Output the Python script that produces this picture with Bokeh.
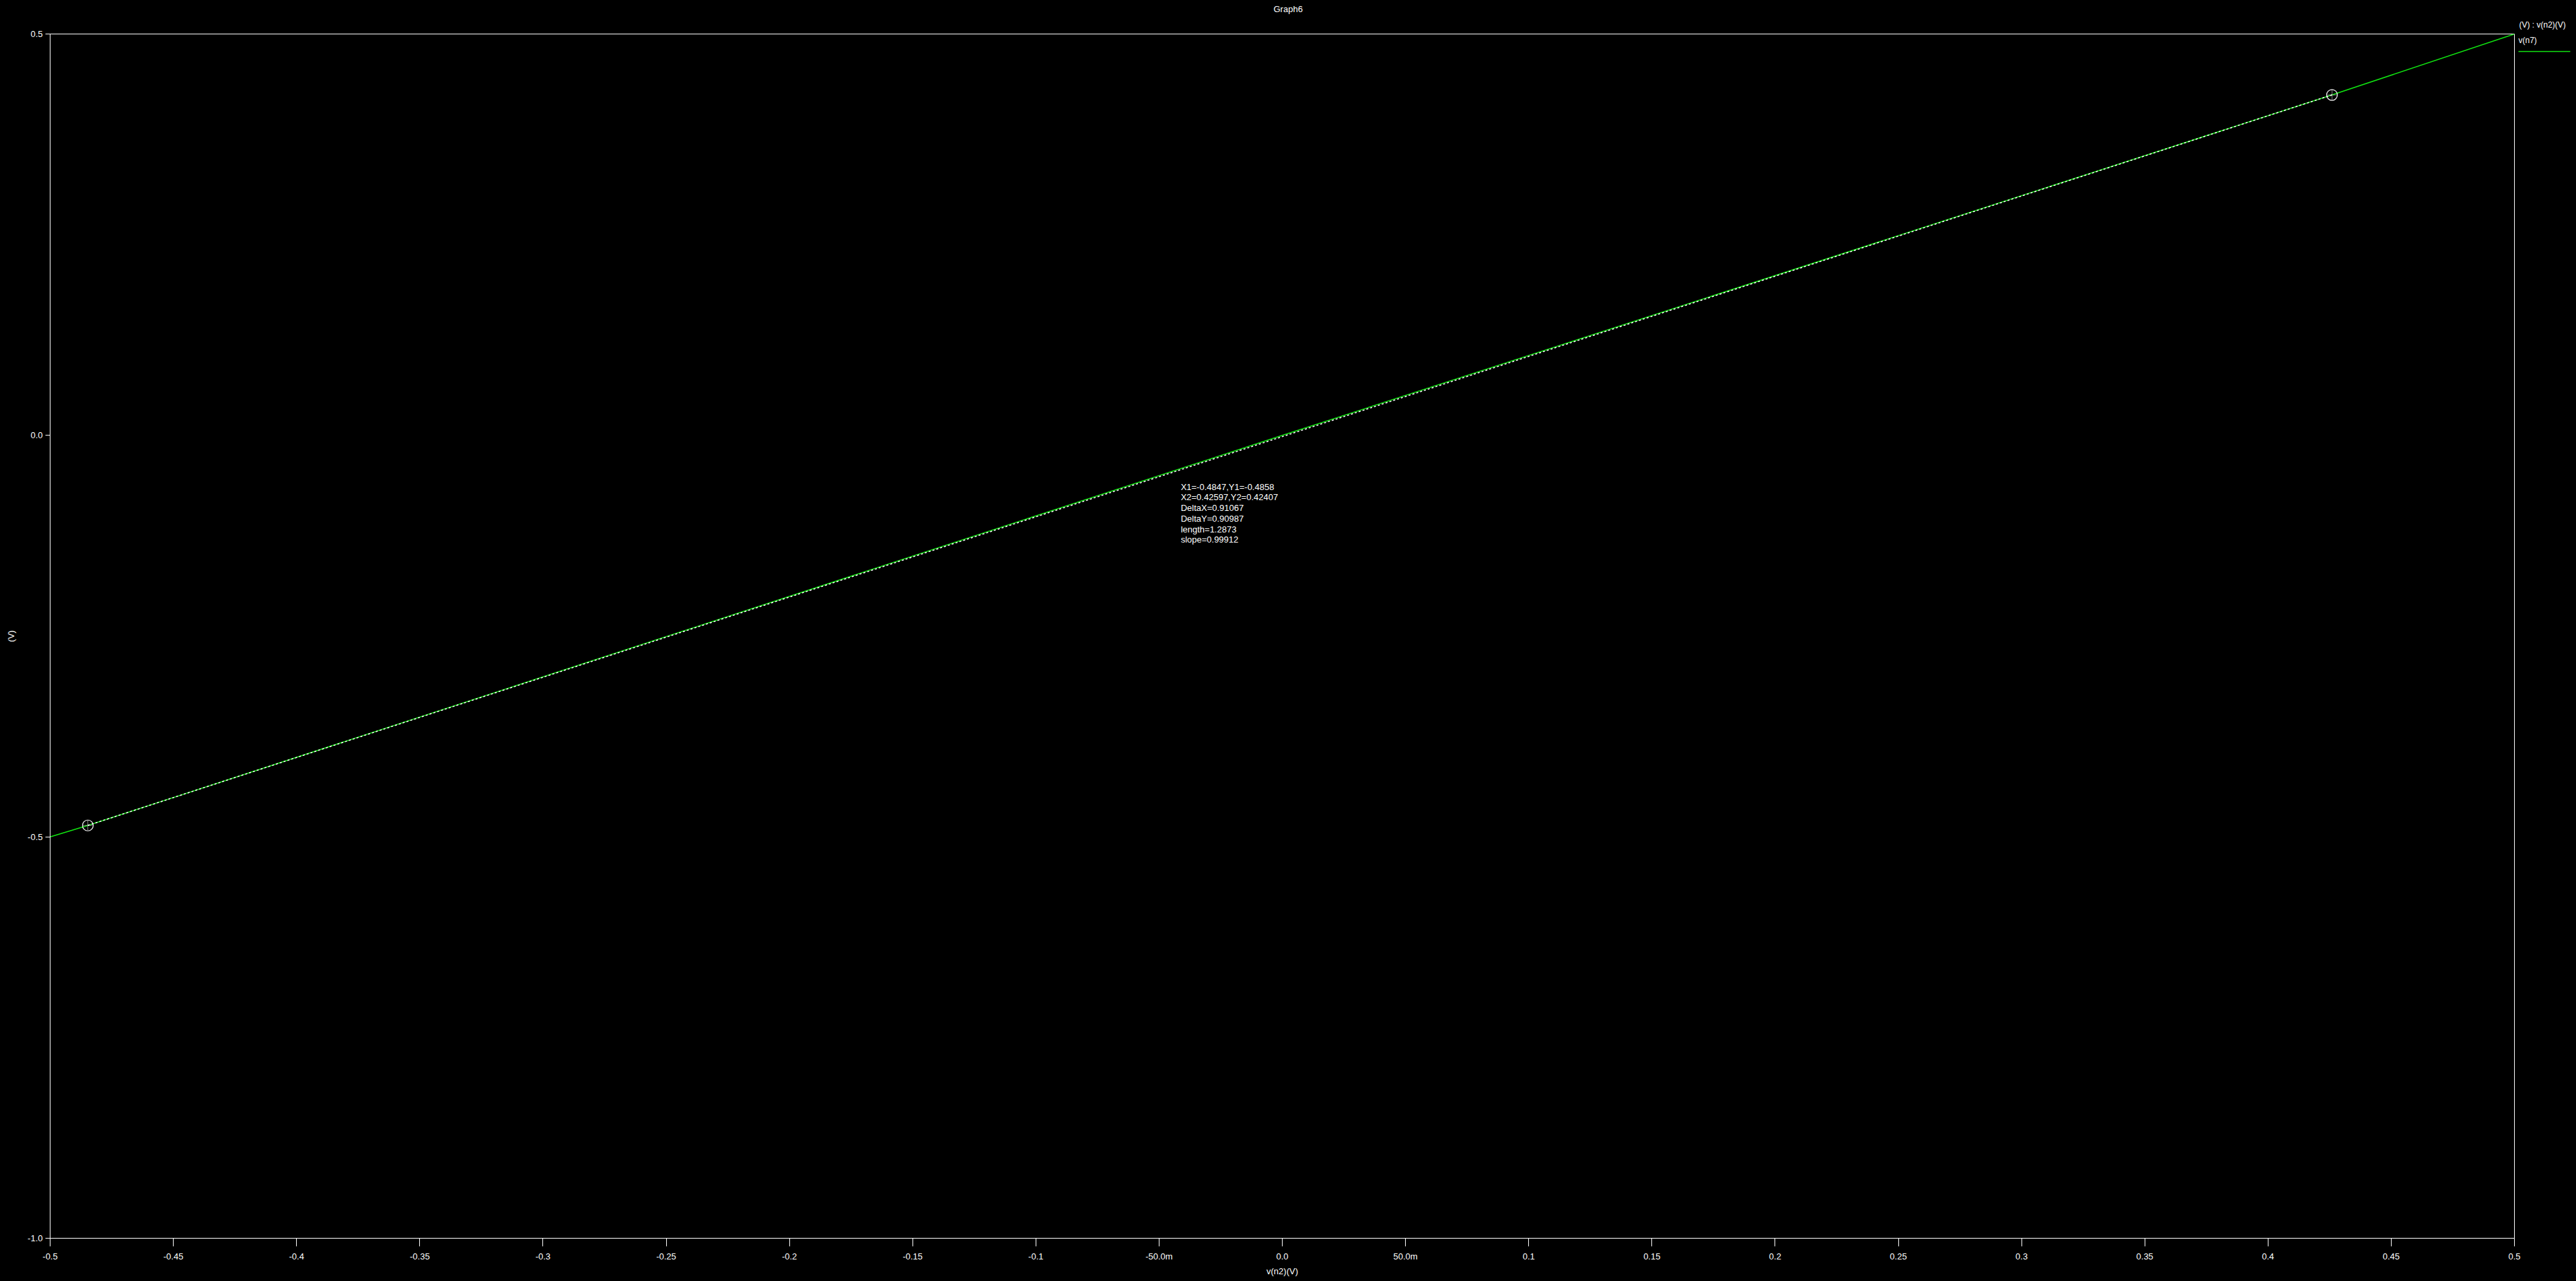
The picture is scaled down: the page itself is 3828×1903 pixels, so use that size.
from bokeh.plotting import figure
from bokeh.models import FixedTicker, Label, Range1d, Title, LinearAxis
from bokeh.embed import file_html
from bokeh.resources import INLINE

# ---- data ----
v_n2 = [-0.5, -0.4847, 0.0, 0.42597, 0.5]
v_n7 = [-0.5, -0.4858, 0.0, 0.42407, 0.5]
cursor_x = [-0.4847, 0.42597]
cursor_y = [-0.4858, 0.42407]
x_ticks = [-0.5, -0.45, -0.4, -0.35, -0.3, -0.25, -0.2, -0.15, -0.1, -0.05,
           0.0, 0.05, 0.1, 0.15, 0.2, 0.25, 0.3, 0.35, 0.4, 0.45, 0.5]
x_tick_labels = ["-0.5", "-0.45", "-0.4", "-0.35", "-0.3", "-0.25", "-0.2",
                 "-0.15", "-0.1", "-50.0m", "0.0", "50.0m", "0.1", "0.15",
                 "0.2", "0.25", "0.3", "0.35", "0.4", "0.45", "0.5"]
y_ticks = [-1.0, -0.5, 0.0, 0.5]
y_tick_labels = ["-1.0", "-0.5", "0.0", "0.5"]
readout = ["X1=-0.4847,Y1=-0.4858", "X2=0.42597,Y2=0.42407", "DeltaX=0.91067",
           "DeltaY=0.90987", "length=1.2873", "slope=0.99912"]
chart_title = "Graph6"
legend_header = "(V) : v(n2)(V)"
legend_item = "v(n7)"

FONT = "Liberation Sans"
GREEN = "#11e611"

X0, X1 = -0.5, 0.5
Y0, Y1 = -1.0, 0.5
FRAME_H = 1789  # px between top and bottom of the frame
px_to_y = (Y1 - Y0) / FRAME_H

p = figure(width=3828, height=1903, output_backend="svg", toolbar_location=None,
           x_range=Range1d(X0, X1), y_range=Range1d(Y0, Y1),
           min_border_left=74, min_border_right=92, min_border_top=50,
           min_border_bottom=64)
p.title = None
p.background_fill_color = "black"
p.border_fill_color = "black"
p.outline_line_color = "white"
p.outline_line_width = 1
p.grid.visible = False

# titles above the frame: legend header (closest to frame), then chart title
p.add_layout(Title(text=legend_header, align="left", offset=3669, standoff=14,
                   vertical_align="bottom", text_color="white", text_font=FONT,
                   text_font_size="12px", text_font_style="normal"), "above")
p.add_layout(Title(text=chart_title, align="left", offset=1818, standoff=0,
                   vertical_align="bottom", text_color="white", text_font=FONT,
                   text_font_size="13px", text_font_style="normal"), "above")

for ax in (p.xaxis[0], p.yaxis[0]):
    ax.axis_line_color = "white"
    ax.major_tick_line_color = "white"
    ax.minor_tick_line_color = None
    ax.major_tick_in = 0
    ax.major_label_text_color = "white"
    ax.major_label_text_font = FONT
    ax.major_label_text_font_size = "13px"
    ax.axis_label_text_color = "white"
    ax.axis_label_text_font = FONT
    ax.axis_label_text_font_size = "13px"
    ax.axis_label_text_font_style = "normal"

p.xaxis.ticker = FixedTicker(ticks=x_ticks)
p.xaxis.major_label_overrides = dict(zip(x_ticks, x_tick_labels))
p.xaxis.major_tick_out = 12
p.xaxis.major_label_standoff = 7
p.xaxis.axis_label = "v(n2)(V)"
p.xaxis.axis_label_standoff = 4

p.yaxis.ticker = FixedTicker(ticks=y_ticks)
p.yaxis.major_label_overrides = dict(zip(y_ticks, y_tick_labels))
p.yaxis.major_tick_out = 7
p.yaxis.major_label_standoff = 4
p.yaxis.axis_label = "(V)"
p.yaxis.axis_label_standoff = 14

# trace
trace = p.line(v_n2, v_n7, line_color=GREEN, line_width=1.5)
# cursor connector
p.line(cursor_x, cursor_y, line_color="white", line_width=1.5, line_dash="3 3")
# cursor markers
p.scatter(cursor_x, cursor_y, marker="circle", size=16, fill_color=None,
          line_color="white", line_width=1.2)
p.scatter(cursor_x, cursor_y, marker="cross", size=13, line_color="white",
          line_width=1, line_dash="1 1")

# cursor readout
p.add_layout(Label(x=-0.0412, y=-0.0576, text="\n".join(readout),
                   text_color="white", text_font=FONT, text_font_size="13px",
                   text_baseline="top", text_align="left", text_line_height=1.05))

# trace key on the right of the frame: name, with its line sample beneath
key_text_y = Y1 - 9 * px_to_y
key_line_y = Y1 - 26 * px_to_y
KEY_LEN = 83
key_axis = LinearAxis(
    ticker=FixedTicker(ticks=[key_text_y], minor_ticks=[key_line_y]),
    major_label_overrides={key_text_y: legend_item},
    axis_line_color=None, major_tick_line_color=None,
    major_tick_in=0, major_tick_out=0, major_label_standoff=6 - KEY_LEN,
    minor_tick_line_color=GREEN, minor_tick_line_width=1.5,
    minor_tick_in=-6, minor_tick_out=KEY_LEN,
    major_label_text_color="white", major_label_text_font=FONT,
    major_label_text_font_size="12px")
p.add_layout(key_axis, "right")

html = file_html(p, INLINE)
html = html.replace("<head>", "<head><style>html,body{background:#000;}</style>", 1)
open("out.html", "w").write(html)
